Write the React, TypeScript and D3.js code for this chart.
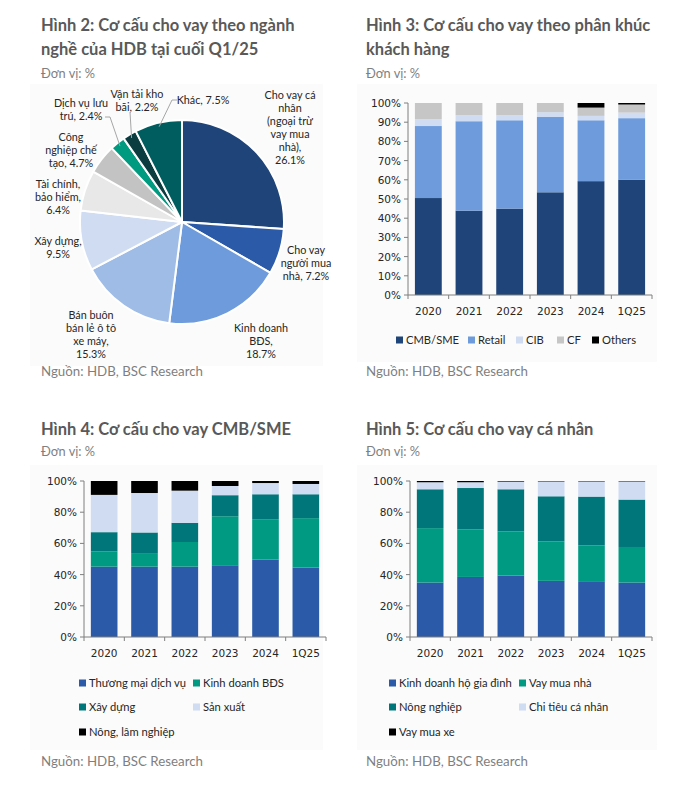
import * as d3 from "d3";
import React from "react";

// ---- data ----
const years = ["2020", "2021", "2022", "2023", "2024", "1Q25"];

// Hình 2: pie, Q1/25
const pieNames = [
  "Cho vay cá nhân (ngoại trừ vay mua nhà)",
  "Cho vay người mua nhà",
  "Kinh doanh BĐS",
  "Bán buôn bán lẻ ô tô xe máy",
  "Xây dựng",
  "Tài chính, bảo hiểm",
  "Công nghiệp chế tạo",
  "Dịch vụ lưu trú",
  "Vận tải kho bãi",
  "Khác",
];
const pieValues = [26.1, 7.2, 18.7, 15.3, 9.5, 6.4, 4.7, 2.4, 2.2, 7.5];
const pieLabelLines = [
  ["Cho vay cá", "nhân", "(ngoại trừ", "vay mua", "nhà),", "{v}"],
  ["Cho vay", "người mua", "nhà, {v}"],
  ["Kinh doanh", "BĐS,", "{v}"],
  ["Bán buôn", "bán lẻ ô tô", "xe máy,", "{v}"],
  ["Xây dựng,", "{v}"],
  ["Tài chính,", "bảo hiểm,", "{v}"],
  ["Công", "nghiệp chế", "tạo, {v}"],
  ["Dịch vụ lưu", "trú, {v}"],
  ["Vận tải kho", "bãi, {v}"],
  ["Khác, {v}"],
];

// Hình 3: by customer segment
const segNames = ["CMB/SME", "Retail", "CIB", "CF", "Others"];
const segCMB = [50.5, 43.9, 45.0, 53.5, 59.3, 60.1];
const segRetail = [37.5, 46.6, 46.0, 39.2, 31.7, 32.0];
const segCIB = [3.6, 3.2, 2.7, 2.5, 2.3, 2.9];
const segCF = [8.4, 6.3, 6.3, 4.8, 4.3, 4.2];
const segOthers = [0, 0, 0, 0, 2.4, 0.8];

// Hình 4: CMB/SME
const smeNames = ["Thương mại dịch vụ", "Kinh doanh BĐS", "Xây dựng", "Sản xuất", "Nông, lâm nghiệp"];
const smeTrade = [45.1, 45.1, 45.1, 46.0, 49.6, 44.5];
const smeRealEstate = [9.8, 8.7, 15.8, 31.4, 25.9, 31.7];
const smeConstruction = [12.3, 13.2, 12.3, 13.5, 16.0, 15.3];
const smeManufacturing = [23.9, 25.3, 20.6, 5.9, 7.2, 6.6];
const smeAgri = [8.9, 7.7, 6.2, 3.2, 1.3, 1.9];

// Hình 5: retail
const retNames = ["Kinh doanh hộ gia đình", "Vay mua nhà", "Nông nghiệp", "Chi tiêu cá nhân", "Vay mua xe"];
const retHousehold = [34.9, 38.5, 39.4, 36.0, 35.3, 34.9];
const retMortgage = [34.9, 30.4, 28.3, 25.3, 23.4, 22.8];
const retAgri = [24.9, 26.6, 27.0, 28.9, 31.3, 30.4];
const retConsumer = [4.5, 3.7, 4.9, 9.5, 9.7, 11.6];
const retAuto = [0.8, 0.8, 0.4, 0.3, 0.3, 0.3];

// ---- styles ----
const pieColors = ["#1f4479", "#2b5ba8", "#6d9bdc", "#9ebce6", "#cfdcf2", "#e8e8e8", "#c3c3c3", "#009a80", "#0a3c40", "#005d5f"];
const segColors = ["#1f4479", "#6d9bdc", "#cfdcf2", "#c6c6c6", "#000000"];
const mixColors = ["#2b5ba8", "#009a83", "#00767a", "#cfdcf2", "#000000"];

const TEXT_FONT = "Lato, 'Noto Sans', sans-serif";
const AXIS_FONT = "'DejaVu Sans', Verdana, sans-serif";
const TITLE_COLOR = "#595959";
const SUB_COLOR = "#7f7f7f";
const AXIS_COLOR = "#7f7f7f";

type Box = { left: number; right: number; top: number; bottom: number };

function Header({ x, y, lines, unitY }: { x: number; y: number; lines: string[]; unitY: number }) {
  return (
    <g fontFamily={TEXT_FONT}>
      {lines.map((l, i) => (
        <text key={i} x={x} y={y + i * 24} fontSize={16.5} fontWeight={700} fill={TITLE_COLOR}>
          {l}
        </text>
      ))}
      <text x={x} y={unitY} fontSize={12.8} fill={SUB_COLOR}>
        Đơn vị: %
      </text>
    </g>
  );
}

function Source({ x, y }: { x: number; y: number }) {
  return (
    <text x={x} y={y} fontFamily={TEXT_FONT} fontSize={13.3} fill={SUB_COLOR}>
      Nguồn: HDB, BSC Research
    </text>
  );
}

function StackedBars({
  box,
  names,
  series,
  colors,
  tickStep,
  legendPos,
}: {
  box: Box;
  names: string[];
  series: number[][];
  colors: string[];
  tickStep: number;
  legendPos: [number, number][];
}) {
  const x = d3.scaleBand<string>().domain(years).range([box.left, box.right]).paddingInner(0.34).paddingOuter(0.17);
  const y = d3.scaleLinear().domain([0, 100]).range([box.bottom, box.top]);
  const rows = years.map((yr, i) => {
    const r: Record<string, number | string> = { year: yr };
    names.forEach((n, k) => (r[n] = series[k][i]));
    return r;
  });
  const stacked = d3.stack<Record<string, number | string>>().keys(names)(rows);
  const yTicks = d3.range(0, 100 + tickStep / 2, tickStep);
  const step = x.step();

  return (
    <g>
      {stacked.map((layer, k) => (
        <g key={names[k]} fill={colors[k]}>
          {layer.map((d, i) => {
            const h = y(d[0]) - y(d[1]);
            if (h <= 0) return null;
            return <rect key={i} x={x(years[i])} y={y(d[1])} width={x.bandwidth()} height={h} />;
          })}
        </g>
      ))}
      {/* y axis */}
      <line x1={box.left} x2={box.left} y1={box.top} y2={box.bottom} stroke={AXIS_COLOR} />
      {yTicks.map((t) => (
        <g key={t}>
          <line x1={box.left - 4} x2={box.left} y1={y(t)} y2={y(t)} stroke={AXIS_COLOR} />
          <text
            x={box.left - 7}
            y={y(t) + 4}
            textAnchor="end"
            fontFamily={AXIS_FONT}
            fontSize={10.5}
            fill="#262626"
          >
            {t}%
          </text>
        </g>
      ))}
      {/* x axis */}
      <line x1={box.left} x2={box.right} y1={box.bottom} y2={box.bottom} stroke={AXIS_COLOR} />
      {d3.range(years.length + 1).map((i) => (
        <line
          key={i}
          x1={box.left + i * step}
          x2={box.left + i * step}
          y1={box.bottom}
          y2={box.bottom + 4}
          stroke={AXIS_COLOR}
        />
      ))}
      {years.map((yr) => (
        <text
          key={yr}
          x={(x(yr) ?? 0) + x.bandwidth() / 2}
          y={box.bottom + 20}
          textAnchor="middle"
          fontFamily={AXIS_FONT}
          fontSize={10.5}
          fill="#262626"
        >
          {yr}
        </text>
      ))}
      {/* legend */}
      {names.map((n, k) => (
        <g key={n} transform={`translate(${legendPos[k][0]},${legendPos[k][1]})`}>
          <rect x={0} y={-3.5} width={7} height={7} fill={colors[k]} />
          <text x={10} y={4} fontFamily={TEXT_FONT} fontSize={11.2} fill="#262626">
            {n}
          </text>
        </g>
      ))}
    </g>
  );
}

function Pie() {
  const cx = 182;
  const cy = 222;
  const r = 102;
  const arcs = d3.pie<number>().sort(null).value((d) => d)(pieValues);
  const arc = d3.arc<d3.PieArcDatum<number>>().innerRadius(0).outerRadius(r);
  // text block centre of each label, relative to pie centre (first line)
  const labelPos: [number, number][] = [
    [108, -127],
    [124, 28],
    [79, 106],
    [-91, 93],
    [-124, 19],
    [-124, -38],
    [-111, -85],
    [-101, -119],
    [-45, -128],
    [21, -122],
  ];
  const lh = 13;
  // leader lines: label-side points, ending on the slice edge
  const leaders: Record<number, [number, number][]> = {
    7: [
      [-77, -105],
      [-72, -105],
    ],
    8: [[-52, -110]],
    9: [
      [-5, -122],
      [-10, -122],
    ],
  };
  const edge = (d: d3.PieArcDatum<number>, rad: number): [number, number] => {
    const a = (d.startAngle + d.endAngle) / 2;
    return [Math.sin(a) * rad, -Math.cos(a) * rad];
  };
  return (
    <g transform={`translate(${cx},${cy})`}>
      {arcs.map((d, i) => (
        <path key={i} d={arc(d) ?? ""} fill={pieColors[i]} stroke="#fff" strokeWidth={2} strokeLinejoin="round" />
      ))}
      {Object.entries(leaders).map(([k, pts]) => {
        const e = edge(arcs[+k], r - 4);
        const all = [...pts, e];
        return (
          <polyline
            key={k}
            points={all.map((p) => p.join(",")).join(" ")}
            fill="none"
            stroke="#a6a6a6"
            strokeWidth={1}
          />
        );
      })}
      {pieLabelLines.map((lines, i) => (
        <text
          key={pieNames[i]}
          textAnchor="middle"
          fontFamily={TEXT_FONT}
          fontSize={10.8}
          fill="#262626"
        >
          {lines.map((l, j) => (
            <tspan key={j} x={labelPos[i][0]} y={labelPos[i][1] + j * lh + 4}>
              {l.replace("{v}", pieValues[i].toFixed(1) + "%")}
            </tspan>
          ))}
        </text>
      ))}
    </g>
  );
}

export default function App() {
  const W = 683;
  const H = 787;
  return (
    <svg
      width={W}
      height={H}
      style={{ position: "absolute", left: 0, top: 0, display: "block", background: "#fff" }}
    >
      <rect width={W} height={H} fill="#fff" />
      {/* faint panel backgrounds */}
      <rect x={30} y={84} width={293} height={282} fill="#fbfbfb" />
      <rect x={357} y={84} width={300} height={278} fill="#fbfbfb" />
      <rect x={30} y={465} width={293} height={285} fill="#fbfbfb" />
      <rect x={357} y={465} width={300} height={285} fill="#fbfbfb" />

      <Header x={41} y={31} lines={["Hình 2: Cơ cấu cho vay theo ngành", "nghề của HDB tại cuối Q1/25"]} unitY={78} />
      <Header x={366} y={31} lines={["Hình 3: Cơ cấu cho vay theo phân khúc", "khách hàng"]} unitY={78} />
      <Header x={41} y={435} lines={["Hình 4: Cơ cấu cho vay CMB/SME"]} unitY={456} />
      <Header x={366} y={435} lines={["Hình 5: Cơ cấu cho vay cá nhân"]} unitY={456} />

      <Pie />

      <StackedBars
        box={{ left: 408, right: 652, top: 103, bottom: 295 }}
        names={segNames}
        series={[segCMB, segRetail, segCIB, segCF, segOthers]}
        colors={segColors}
        tickStep={10}
        legendPos={[
          [396, 340],
          [468, 340],
          [516, 340],
          [557, 340],
          [592, 340],
        ]}
      />
      <StackedBars
        box={{ left: 84, right: 326, top: 481, bottom: 637 }}
        names={smeNames}
        series={[smeTrade, smeRealEstate, smeConstruction, smeManufacturing, smeAgri]}
        colors={mixColors}
        tickStep={20}
        legendPos={[
          [79, 683],
          [193, 683],
          [79, 707],
          [193, 707],
          [79, 732],
        ]}
      />
      <StackedBars
        box={{ left: 410, right: 652, top: 481, bottom: 637 }}
        names={retNames}
        series={[retHousehold, retMortgage, retAgri, retConsumer, retAuto]}
        colors={mixColors}
        tickStep={20}
        legendPos={[
          [389, 683],
          [519, 683],
          [389, 707],
          [519, 707],
          [389, 732],
        ]}
      />

      <Source x={41} y={376} />
      <Source x={366} y={376} />
      <Source x={41} y={766} />
      <Source x={366} y={766} />
    </svg>
  );
}
